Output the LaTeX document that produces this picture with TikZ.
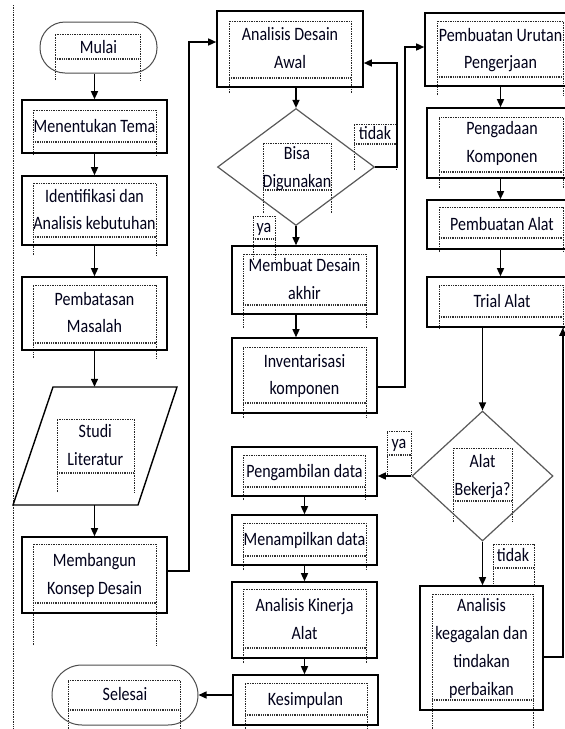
\documentclass[tikz,border=0pt]{standalone}
\usepackage{fontspec}
\usepackage{graphicx}
\setmainfont{Carlito}
\usetikzlibrary{arrows.meta,shapes.geometric,calc}
\newcommand\fsz{\fontsize{16}{23.5}\selectfont}
\newcommand\T[1]{\scalebox{1}[1.18]{\begin{tabular}{@{}c@{}}#1\end{tabular}}}
\newcommand\tfr[5]{%
  \draw[tfline] (#1,#5) -- (#1,#3) -- (#2,#3) -- (#2,#5);
  \draw[tfbot] (#1,#4) -- (#2,#4);}
\begin{document}
\begin{tikzpicture}[x=1pt,y=-1pt,
  tfline/.style={draw=black!85,line width=0.7pt,dash pattern=on 0.8pt off 0.9pt},
  tfbot/.style={draw=black!80,line width=2pt,dash pattern=on 1pt off 0.8pt},
  box/.style={rectangle,draw=black,line width=1.6pt,inner sep=0pt,align=center,font=\fsz,text=black!90!blue},
  term/.style={rectangle,draw=black!70,line width=1pt,inner sep=0pt,align=center,font=\fsz,text=black!90!blue},
  dia/.style={diamond,draw=black!65,line width=1.2pt,inner sep=0pt},
  txt/.style={inner sep=0pt,align=center,font=\fsz,text=black!90!blue},
  arr/.style={draw=black,line width=1.4pt,-{Triangle[length=8pt,width=7pt]}}]
\useasboundingbox (0,0) rectangle (565,729);
% page margin line
\draw[tfline] (13,5) -- (13,729);
% text frames
\tfr{55}{140}{34}{59}{80}
\tfr{33}{156}{110}{142}{155}
\tfr{33}{156}{183}{237}{255}
\tfr{33}{156}{285}{343}{358}
\tfr{57}{134}{419}{473}{492}
\tfr{33}{156}{544}{603}{645}
\tfr{68}{180}{680}{710}{729}
\tfr{229}{351}{21}{78}{93}
\tfr{263}{331}{143}{190}{213}
\tfr{354}{396}{124}{144}{170}
\tfr{253}{275}{216}{239}{260}
\tfr{243}{366}{254}{305}{328}
\tfr{243}{366}{347}{403}{418}
\tfr{387}{411}{431}{455}{475}
\tfr{243}{365}{455}{487}{500}
\tfr{243}{366}{523}{556}{570}
\tfr{243}{366}{589}{648}{663}
\tfr{245}{367}{683}{715}{729}
\tfr{437}{563}{21}{77}{95}
\tfr{439}{563}{117}{172}{188}
\tfr{439}{563}{207}{238}{252}
\tfr{439}{563}{285}{317}{329}
\tfr{453}{512}{448}{501}{522}
\tfr{493}{534}{544}{568}{587}
\tfr{432}{533}{594}{700}{729}
% left column
\node[term,rounded corners=25pt,minimum width=117pt,minimum height=51pt] (mulai) at (98.5,47.5) {\T{Mulai}};
\node[box,minimum width=145pt,minimum height=53pt] (tema) at (94.5,126.5) {\T{Menentukan Tema}};
\node[box,minimum width=145pt,minimum height=69pt] (ident) at (94.5,210.5) {\T{Identifikasi dan\\Analisis kebutuhan}};
\node[box,minimum width=145pt,minimum height=73pt] (batas) at (94.5,313.5) {\T{Pembatasan\\Masalah}};
\draw[black,line width=1.4pt] (53,387) -- (177,387) -- (138,505) -- (13,505) -- cycle;
\node[txt,minimum width=80pt,minimum height=118pt] (studi) at (95.3,446) {\T{Studi\\Literatur}};
\node[box,minimum width=145pt,minimum height=76pt] (konsep) at (94.5,575) {\T{Membangun\\Konsep Desain}};
\node[term,rounded corners=30pt,minimum width=146pt,minimum height=60pt] (selesai) at (125,695) {\T{Selesai}};
% middle column
\node[box,minimum width=146pt,minimum height=76pt] (awal) at (290,49) {\T{Analisis Desain\\Awal}};
\node[dia,minimum width=157pt,minimum height=117pt] (d1) at (296,167) {};
\node[txt] (d1t) at (297,168) {\T{Bisa\\Digunakan}};
\node[box,minimum width=145pt,minimum height=68pt] (akhir) at (304.5,280) {\T{Membuat Desain\\akhir}};
\node[box,minimum width=145pt,minimum height=75pt] (invent) at (304.5,375.5) {\T{Inventarisasi\\komponen}};
\node[box,minimum width=145pt,minimum height=49pt] (ambil) at (304.5,471.5) {\T{Pengambilan data}};
\node[box,minimum width=145pt,minimum height=50pt] (tampil) at (304.5,540) {\T{Menampilkan data}};
\node[box,minimum width=145pt,minimum height=76pt] (kinerja) at (304.5,620) {\T{Analisis Kinerja\\Alat}};
\node[box,minimum width=145pt,minimum height=50pt] (simpul) at (305.5,700) {\T{Kesimpulan}};
% right column
\node[box,minimum width=151pt,minimum height=73pt] (urutan) at (500.5,49.5) {\T{Pembuatan Urutan\\Pengerjaan}};
\node[box,minimum width=150pt,minimum height=70pt] (adaan) at (502,143) {\T{Pengadaan\\Komponen}};
\node[box,minimum width=150pt,minimum height=49pt] (alat) at (502,224.5) {\T{Pembuatan Alat}};
\node[box,minimum width=150pt,minimum height=50pt] (trial) at (502,302) {\T{Trial Alat}};
\node[dia,minimum width=141pt,minimum height=130pt] (d2) at (482.5,476) {};
\node[txt] (d2t) at (482.5,476) {\T{Alat\\Bekerja?}};
\node[box,minimum width=123pt,minimum height=124pt] (gagal) at (481.5,648) {\T{Analisis\\kegagalan dan\\tindakan\\perbaikan}};
% labels
\node[txt] (l1) at (375,134) {\T{tidak}};
\node[txt] (l2) at (264,227) {\T{ya}};
\node[txt] (l3) at (399,443) {\T{ya}};
\node[txt] (l4) at (513,556) {\T{tidak}};
% connectors
\draw[arr] (mulai.south -| tema.north) -- (tema.north);
\draw[arr] (tema.south) -- (ident.north);
\draw[arr] (ident.south) -- (batas.north);
\draw[arr] (batas.south) -- (batas.south |- studi.north);
\draw[arr] (studi.south -| konsep.north) -- (konsep.north);
\draw[arr] ($(konsep.east)+(0,-4)$) -- ++(21,0) |- ($(awal.west)+(0,-7)$);
\draw[arr] (awal.south -| d1.north) -- (d1.north);
\draw[arr] (d1.east) -- ++(22,0) |- ($(awal.east)+(0,14)$);
\draw[arr] (d1.south) -- (d1.south |- akhir.north);
\draw[arr] (akhir.south -| d1.south) -- (invent.north -| d1.south);
\draw[arr] ($(invent.east)+(0,11.5)$) -- ++(27,0) |- ($(urutan.west)+(0,-2.5)$);
\draw[arr] (urutan.south) -- (urutan.south |- adaan.north);
\draw[arr] (adaan.south -| urutan.south) -- (alat.north -| urutan.south);
\draw[arr] (alat.south -| urutan.south) -- (trial.north -| urutan.south);
\draw[arr] (trial.south -| d2.north) -- (d2.north);
\draw[arr] (d2.west) -- (d2.west -| ambil.east);
\draw[arr] (d2.south) -- (d2.south |- gagal.north);
\draw[arr] ($(gagal.east)+(0,9)$) -- ++(19,0) coordinate (g1) -- (g1 |- trial.south);
\draw[arr] (ambil.south) -- (tampil.north);
\draw[arr] (tampil.south) -- (kinerja.north);
\draw[arr] (kinerja.south -| tampil.south) -- (simpul.north -| tampil.south);
\draw[arr] (simpul.west |- selesai.east) -- (selesai.east);
\end{tikzpicture}
\end{document}
